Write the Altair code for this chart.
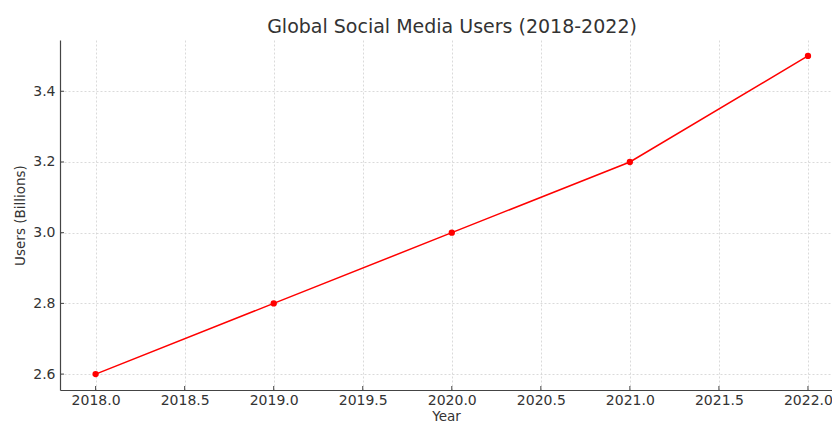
import altair as alt
import pandas as pd

years = [2018, 2019, 2020, 2021, 2022]
users = [2.6, 2.8, 3.0, 3.2, 3.5]
x_ticks = [2018.0, 2018.5, 2019.0, 2019.5, 2020.0, 2020.5, 2021.0, 2021.5, 2022.0]
y_ticks = [2.6, 2.8, 3.0, 3.2, 3.4]

df = pd.DataFrame({"Year": years, "Users": users})
xt = pd.DataFrame({"Year": x_ticks})
yt = pd.DataFrame({"Users": y_ticks})

FONT = "DejaVu Sans"
W, H = 772, 350
xscale = alt.Scale(domain=[2017.8, 2022.135], nice=False, zero=False)
yscale = alt.Scale(domain=[2.555, 3.545], nice=False, zero=False)

xaxis = alt.Axis(values=x_ticks, format=".1f", title="Year", ticks=False,
                 labelPadding=3, titlePadding=2, domainColor="#444", domainWidth=1.2,
                 gridColor="#d0d0d0", gridDash=[2, 2], gridWidth=0.8,
                 labelFontSize=14, titleFontSize=13.5, labelColor="#333", titleColor="#333",
                 labelFont=FONT, titleFont=FONT, titleFontWeight="normal", labelFlush=False)
yaxis = alt.Axis(values=y_ticks, format=".1f", title="Users (Billions)", ticks=False,
                 labelPadding=5, titlePadding=5, domainColor="#444", domainWidth=1.2,
                 gridColor="#d0d0d0", gridDash=[2, 2], gridWidth=0.8,
                 labelFontSize=14, titleFontSize=13.5, labelColor="#333", titleColor="#333",
                 labelFont=FONT, titleFont=FONT, titleFontWeight="normal")

base = alt.Chart(df).encode(
    x=alt.X("Year:Q", scale=xscale, axis=xaxis),
    y=alt.Y("Users:Q", scale=yscale, axis=yaxis),
)
line = base.mark_line(color="red", strokeWidth=1.5)
pts = base.mark_point(filled=True, color="red", size=40, opacity=1)

xtick_marks = alt.Chart(xt).mark_rule(color="#444", strokeWidth=1).encode(
    x=alt.X("Year:Q", scale=xscale, axis=xaxis),
    y=alt.value(H), y2=alt.value(H - 4),
)
ytick_marks = alt.Chart(yt).mark_rule(color="#444", strokeWidth=1).encode(
    y=alt.Y("Users:Q", scale=yscale, axis=yaxis),
    x=alt.value(0), x2=alt.value(4),
)

chart = alt.layer(line, pts, xtick_marks, ytick_marks).properties(
    width=W, height=H,
    title=alt.TitleParams("Global Social Media Users (2018-2022)", font=FONT, fontSize=19,
                          fontWeight="normal", color="#333", offset=3, dx=6),
    padding={"left": 52, "top": 32, "right": 0, "bottom": 33},
    autosize="none",
).configure_view(stroke=None)

chart.save("out.html", embed_options={"renderer": "svg", "actions": False})
